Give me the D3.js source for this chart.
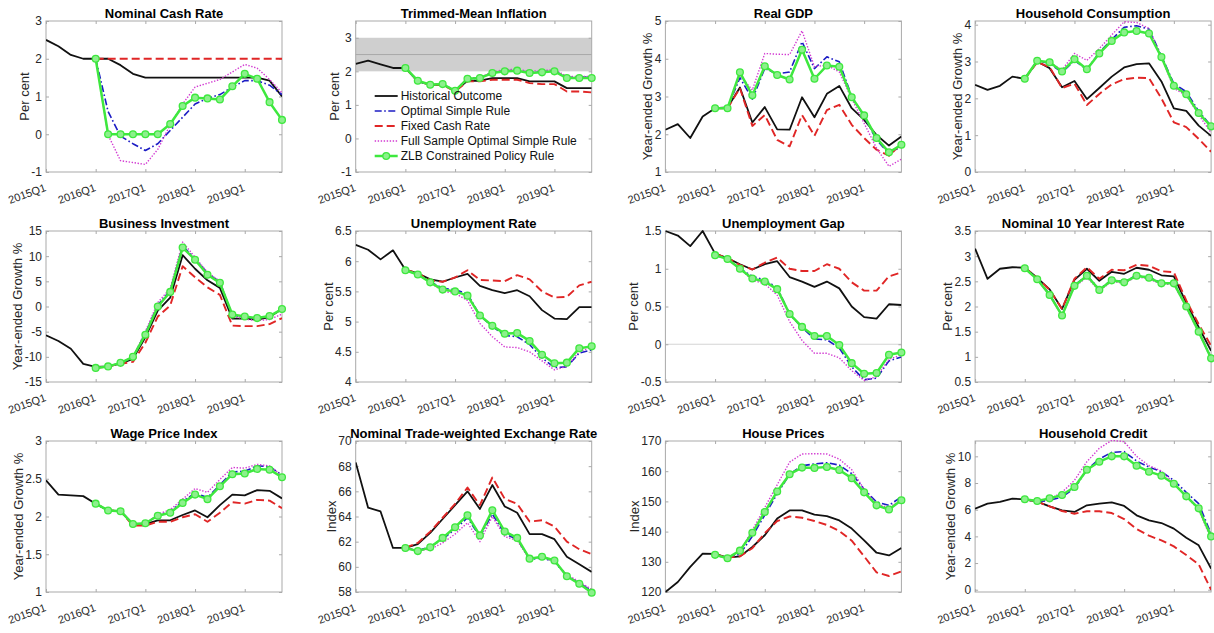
<!DOCTYPE html>
<html>
<head>
<meta charset="utf-8">
<script src="https://cdn.jsdelivr.net/npm/d3@7"></script>
<style>
  body { margin: 0; background: #ffffff; }
  svg { display: block; font-family: "Liberation Sans", Arial, Helvetica, sans-serif; }
</style>
</head>
<body>
<svg id="chart" width="1214" height="633"></svg>
<script>
// Quarterly time axis
const quarters = ["2015Q1","2015Q2","2015Q3","2015Q4","2016Q1","2016Q2","2016Q3","2016Q4",
                  "2017Q1","2017Q2","2017Q3","2017Q4","2018Q1","2018Q2","2018Q3","2018Q4",
                  "2019Q1","2019Q2","2019Q3","2019Q4"];
const xTickQuarters = ["2015Q1","2016Q1","2017Q1","2018Q1","2019Q1"];
const simStartQuarter = "2016Q1";

const seriesNames = ["Historical Outcome", "Optimal Simple Rule", "Fixed Cash Rate",
                     "Full Sample Optimal Simple Rule", "ZLB Constrained Policy Rule"];

const titles = ["Nominal Cash Rate", "Trimmed-Mean Inflation", "Real GDP", "Household Consumption",
                "Business Investment", "Unemployment Rate", "Unemployment Gap", "Nominal 10 Year Interest Rate",
                "Wage Price Index", "Nominal Trade-weighted Exchange Rate", "House Prices", "Household Credit"];
const yLabels = ["Per cent", "Per cent", "Year-ended Growth %", "Year-ended Growth %",
                 "Year-ended Growth %", "Per cent", "Per cent", "Per cent",
                 "Year-ended Growth %", "Index", "Index", "Year-ended Growth %"];
const yDomains = [[-1, 3], [-1, 3.5], [1, 5], [0, 4.1],
                  [-15, 15], [4, 6.5], [-0.5, 1.5], [0.5, 3.5],
                  [1, 3], [58, 70], [120, 170], [-0.17, 11.15]];
const yTicks = [[-1, 0, 1, 2, 3], [-1, 0, 1, 2, 3], [1, 2, 3, 4, 5], [0, 1, 2, 3, 4],
                [-15, -10, -5, 0, 5, 10, 15], [4, 4.5, 5, 5.5, 6, 6.5], [-0.5, 0, 0.5, 1, 1.5], [0.5, 1, 1.5, 2, 2.5, 3, 3.5],
                [1, 1.5, 2, 2.5, 3], [58, 60, 62, 64, 66, 68, 70], [120, 130, 140, 150, 160, 170], [0, 2, 4, 6, 8, 10]];

// Inflation target band and unemployment-gap reference
const inflTargetBand = [2, 3];
const gapReference = [0];

// Nominal cash rate
const cashHist  = [2.5, 2.33, 2.1, 2.0, 2.0, 2.0, 1.83, 1.6, 1.5, 1.5, 1.5, 1.5, 1.5, 1.5, 1.5, 1.5, 1.5, 1.5, 1.42, 1.0];
const cashOpt   = [2.0, 0.6, -0.05, -0.25, -0.43, -0.25, 0.1, 0.45, 0.8, 0.95, 1.05, 1.25, 1.42, 1.42, 1.3, 1.05];
const cashFixed = [2.0, 2.0, 2.0, 2.0, 2.0, 2.0, 2.0, 2.0, 2.0, 2.0, 2.0, 2.0, 2.0, 2.0, 2.0, 2.0];
const cashFull  = [2.0, -0.02, -0.7, -0.75, -0.8, -0.4, 0.25, 0.8, 1.25, 1.35, 1.45, 1.65, 1.85, 1.75, 1.45, 1.1];
const cashZlb   = [2.0, 0, 0, 0, 0, 0, 0.27, 0.75, 0.97, 0.95, 0.92, 1.27, 1.6, 1.47, 0.85, 0.38];

// Trimmed-mean inflation
const inflHist  = [2.22, 2.32, 2.21, 2.1, 2.1, 1.7, 1.6, 1.6, 1.42, 1.72, 1.72, 1.8, 1.8, 1.8, 1.7, 1.7, 1.7, 1.5, 1.5, 1.5];
const inflOpt   = [2.1, 1.7, 1.6, 1.62, 1.42, 1.78, 1.8, 1.96, 2.02, 2.03, 1.97, 1.98, 2.02, 1.82, 1.83, 1.83];
const inflFixed = [2.1, 1.7, 1.6, 1.6, 1.4, 1.7, 1.7, 1.75, 1.75, 1.75, 1.65, 1.62, 1.62, 1.4, 1.4, 1.37];
const inflFull  = [2.1, 1.7, 1.6, 1.62, 1.42, 1.8, 1.82, 1.98, 2.05, 2.06, 2.0, 2.02, 2.05, 1.85, 1.85, 1.85];
const inflZlb   = [2.1, 1.72, 1.6, 1.62, 1.42, 1.78, 1.8, 1.95, 2.0, 2.02, 1.95, 1.97, 2.0, 1.8, 1.8, 1.8];

// Real GDP
const gdpHist  = [2.12, 2.27, 1.9, 2.47, 2.69, 2.71, 3.24, 2.31, 2.72, 2.13, 2.12, 2.98, 2.45, 3.07, 3.28, 2.69, 2.38, 1.98, 1.7, 1.94];
const gdpOpt   = [2.69, 2.69, 3.5, 2.93, 3.74, 3.6, 3.65, 4.45, 3.74, 4.05, 3.92, 3.0, 2.47, 1.85, 1.48, 1.68];
const gdpFixed = [2.69, 2.69, 3.22, 2.22, 2.51, 1.85, 1.68, 2.51, 1.96, 2.64, 2.78, 2.25, 1.9, 1.59, 1.43, 1.75];
const gdpFull  = [2.69, 2.69, 3.57, 3.17, 4.14, 4.12, 4.11, 4.74, 3.79, 3.83, 3.65, 2.94, 2.29, 1.63, 1.15, 1.34];
const gdpZlb   = [2.69, 2.69, 3.64, 3.03, 3.8, 3.57, 3.45, 4.24, 3.47, 3.82, 3.79, 2.98, 2.5, 1.9, 1.52, 1.72];

// Household consumption
const consHist  = [2.37, 2.23, 2.34, 2.59, 2.53, 3.0, 2.82, 2.3, 2.47, 1.98, 2.28, 2.59, 2.84, 2.93, 2.95, 2.46, 1.73, 1.66, 1.26, 0.98];
const consOpt   = [2.53, 3.02, 2.95, 2.7, 3.03, 2.78, 3.25, 3.6, 3.93, 3.97, 3.88, 3.15, 2.4, 2.18, 1.65, 1.25];
const consFixed = [2.53, 2.98, 2.85, 2.28, 2.4, 1.82, 2.12, 2.38, 2.52, 2.56, 2.55, 2.0, 1.35, 1.22, 0.9, 0.55];
const consFull  = [2.53, 3.02, 2.97, 2.77, 3.22, 3.03, 3.35, 3.72, 4.08, 4.06, 3.9, 3.12, 2.27, 2.08, 1.55, 1.07];
const consZlb   = [2.53, 3.02, 2.98, 2.73, 3.06, 2.79, 3.22, 3.56, 3.79, 3.83, 3.76, 3.12, 2.34, 2.11, 1.6, 1.24];

// Business investment
const invHist  = [-5.73, -6.85, -8.4, -11.4, -12.0, -11.9, -11.35, -10.4, -6.1, -0.8, 1.75, 10.2, 7.5, 5.2, 3.7, -2.4, -2.4, -2.6, -2.1, -0.5];
const invOpt   = [-12.2, -11.9, -11.2, -10.1, -5.3, 0.3, 3.2, 12.0, 9.6, 6.6, 4.9, -1.8, -2.1, -2.4, -1.9, -0.6];
const invFixed = [-12.2, -11.9, -11.4, -11.0, -7.2, -2.0, 0.2, 8.0, 5.8, 3.8, 2.3, -3.8, -3.9, -3.9, -3.5, -2.3];
const invFull  = [-12.2, -11.9, -11.2, -10.0, -5.0, 0.8, 3.6, 12.8, 9.8, 6.8, 5.0, -1.9, -2.5, -2.8, -2.6, -1.5];
const invZlb   = [-12.2, -11.9, -11.2, -10.0, -5.6, 0.0, 2.9, 11.7, 9.3, 6.3, 4.7, -1.6, -2.0, -2.3, -1.9, -0.5];

// Unemployment rate
const urHist  = [6.27, 6.19, 6.03, 6.18, 5.86, 5.8, 5.7, 5.66, 5.73, 5.79, 5.59, 5.52, 5.47, 5.52, 5.42, 5.19, 5.05, 5.04, 5.24, 5.24];
const urOpt   = [5.85, 5.78, 5.66, 5.55, 5.53, 5.46, 5.1, 4.92, 4.77, 4.75, 4.62, 4.4, 4.24, 4.25, 4.48, 4.53];
const urFixed = [5.86, 5.8, 5.68, 5.66, 5.73, 5.85, 5.69, 5.68, 5.67, 5.77, 5.7, 5.5, 5.4, 5.41, 5.6, 5.66];
const urFull  = [5.85, 5.78, 5.65, 5.5, 5.47, 5.35, 4.97, 4.75, 4.58, 4.57, 4.5, 4.35, 4.2, 4.26, 4.5, 4.58];
const urZlb   = [5.85, 5.78, 5.65, 5.53, 5.5, 5.43, 5.1, 4.93, 4.8, 4.81, 4.68, 4.45, 4.31, 4.32, 4.56, 4.59];

// Unemployment gap
const gapHist  = [1.5, 1.44, 1.3, 1.5, 1.2, 1.14, 1.06, 0.99, 1.06, 1.1, 0.89, 0.83, 0.76, 0.83, 0.74, 0.5, 0.36, 0.34, 0.53, 0.52];
const gapOpt   = [1.18, 1.13, 1.0, 0.9, 0.85, 0.75, 0.4, 0.22, 0.07, 0.06, -0.05, -0.3, -0.47, -0.45, -0.22, -0.17];
const gapFixed = [1.2, 1.14, 1.05, 0.99, 1.08, 1.15, 1.0, 0.97, 0.97, 1.06, 1.0, 0.82, 0.71, 0.71, 0.9, 0.95];
const gapFull  = [1.18, 1.13, 1.0, 0.85, 0.8, 0.65, 0.3, 0.05, -0.12, -0.12, -0.18, -0.35, -0.48, -0.43, -0.2, -0.14];
const gapZlb   = [1.18, 1.13, 1.0, 0.87, 0.83, 0.73, 0.4, 0.23, 0.11, 0.11, -0.01, -0.25, -0.39, -0.38, -0.14, -0.11];

// Nominal 10 year bond rate
const bondHist  = [3.15, 2.55, 2.75, 2.78, 2.77, 2.57, 2.34, 1.95, 2.53, 2.75, 2.51, 2.69, 2.65, 2.77, 2.73, 2.62, 2.6, 2.07, 1.59, 1.12];
const bondOpt   = [2.76, 2.55, 2.24, 1.83, 2.42, 2.62, 2.34, 2.53, 2.49, 2.62, 2.58, 2.47, 2.47, 2.01, 1.51, 0.98];
const bondFixed = [2.77, 2.57, 2.33, 1.95, 2.55, 2.78, 2.55, 2.73, 2.72, 2.83, 2.81, 2.7, 2.68, 2.12, 1.65, 1.22];
const bondFull  = [2.76, 2.54, 2.22, 1.81, 2.39, 2.58, 2.31, 2.5, 2.46, 2.59, 2.55, 2.44, 2.44, 1.98, 1.48, 0.96];
const bondZlb   = [2.76, 2.54, 2.23, 1.82, 2.41, 2.61, 2.33, 2.52, 2.48, 2.61, 2.57, 2.46, 2.46, 2.0, 1.5, 0.97];

// Wage price index
const wpiHist  = [2.48, 2.29, 2.28, 2.27, 2.17, 2.08, 2.07, 1.9, 1.9, 1.95, 1.95, 2.02, 2.08, 1.99, 2.15, 2.29, 2.28, 2.35, 2.34, 2.24];
const wpiOpt   = [2.17, 2.08, 2.07, 1.9, 1.9, 2.02, 2.07, 2.2, 2.31, 2.25, 2.42, 2.59, 2.6, 2.67, 2.66, 2.55];
const wpiFixed = [2.17, 2.08, 2.07, 1.88, 1.88, 1.93, 1.93, 1.99, 2.03, 1.93, 2.05, 2.19, 2.17, 2.22, 2.21, 2.11];
const wpiFull  = [2.17, 2.08, 2.07, 1.9, 1.9, 2.03, 2.09, 2.23, 2.37, 2.32, 2.49, 2.65, 2.64, 2.69, 2.67, 2.54];
const wpiZlb   = [2.17, 2.08, 2.07, 1.9, 1.91, 2.01, 2.05, 2.18, 2.29, 2.23, 2.4, 2.56, 2.57, 2.63, 2.62, 2.52];

// Nominal trade-weighted exchange rate
const twiHist  = [68.3, 64.7, 64.4, 61.5, 61.5, 61.8, 62.7, 63.8, 64.9, 66.0, 64.6, 66.5, 64.8, 64.3, 62.6, 62.6, 62.2, 60.8, 60.2, 59.6];
const twiOpt   = [61.5, 61.3, 61.6, 62.2, 63.0, 63.9, 62.4, 64.2, 62.6, 62.2, 60.6, 60.7, 60.4, 59.3, 58.7, 58.1];
const twiFixed = [61.5, 61.9, 62.8, 63.9, 65.0, 66.3, 64.9, 67.1, 65.4, 65.0, 63.6, 63.7, 63.2, 62.0, 61.4, 61.0];
const twiFull  = [61.5, 61.3, 61.4, 61.9, 62.6, 63.5, 62.0, 64.0, 62.4, 62.1, 60.6, 60.8, 60.4, 59.4, 58.8, 58.2];
const twiZlb   = [61.5, 61.25, 61.55, 62.3, 63.15, 64.1, 62.5, 64.5, 62.8, 62.3, 60.65, 60.8, 60.5, 59.25, 58.65, 57.95];

// House prices
const hpHist  = [120, 123.3, 128.3, 132.7, 132.6, 131.4, 131.8, 134.9, 138.8, 144.3, 147.0, 147.0, 145.6, 145.1, 143.7, 141.0, 137.1, 133.0, 132.1, 134.6];
const hpOpt   = [132.3, 131.2, 132.5, 138.5, 145.5, 152.5, 159.0, 161.8, 162.4, 162.8, 162.0, 159.2, 154.0, 149.8, 148.7, 151.5];
const hpFixed = [132.5, 131.4, 131.8, 134.5, 139.5, 143.5, 145.0, 144.6, 143.5, 142.2, 140.2, 137.0, 131.8, 126.5, 125.3, 126.8];
const hpFull  = [132.3, 131.2, 133.5, 140.5, 148.0, 155.5, 163.0, 165.7, 165.8, 165.7, 164.0, 160.5, 154.0, 149.0, 148.0, 150.5];
const hpZlb   = [132.3, 131.2, 133.7, 139.6, 146.5, 153.3, 159.0, 161.2, 161.1, 161.4, 160.4, 157.7, 153.0, 148.7, 147.3, 150.4];

// Household credit
const credHist  = [6.08, 6.45, 6.58, 6.83, 6.78, 6.6, 6.25, 5.95, 5.83, 6.33, 6.45, 6.55, 6.28, 5.58, 5.2, 5.0, 4.58, 3.9, 3.33, 1.58];
const credOpt   = [6.78, 6.6, 6.7, 6.95, 7.6, 9.0, 9.8, 10.3, 10.35, 9.65, 9.2, 8.85, 8.2, 7.3, 6.45, 4.2];
const credFixed = [6.78, 6.6, 6.25, 5.9, 5.7, 5.88, 5.88, 5.75, 5.3, 4.55, 4.05, 3.7, 3.25, 2.6, 1.9, 0.0];
const credFull  = [6.78, 6.6, 6.8, 7.3, 8.2, 9.6, 10.6, 11.2, 11.1, 10.0, 9.3, 8.9, 8.0, 7.0, 6.0, 3.8];
const credZlb   = [6.78, 6.65, 6.85, 7.1, 7.7, 9.0, 9.6, 10.0, 10.0, 9.3, 8.85, 8.55, 7.95, 7.0, 6.1, 4.0];

const histSeries = [cashHist, inflHist, gdpHist, consHist, invHist, urHist, gapHist, bondHist, wpiHist, twiHist, hpHist, credHist];
const simSeries = [
  [cashOpt, cashFixed, cashFull, cashZlb],
  [inflOpt, inflFixed, inflFull, inflZlb],
  [gdpOpt, gdpFixed, gdpFull, gdpZlb],
  [consOpt, consFixed, consFull, consZlb],
  [invOpt, invFixed, invFull, invZlb],
  [urOpt, urFixed, urFull, urZlb],
  [gapOpt, gapFixed, gapFull, gapZlb],
  [bondOpt, bondFixed, bondFull, bondZlb],
  [wpiOpt, wpiFixed, wpiFull, wpiZlb],
  [twiOpt, twiFixed, twiFull, twiZlb],
  [hpOpt, hpFixed, hpFull, hpZlb],
  [credOpt, credFixed, credFull, credZlb]
];

// ---------- drawing ----------
const svg = d3.select("#chart");
svg.append("rect").attr("width", 1214).attr("height", 633).attr("fill", "#ffffff");

const plotW = 236, plotH = 151;
const colLeft = c => 46 + c * 309.7;
const rowTop = r => 21 + r * 210;
const simStart = quarters.indexOf(simStartQuarter);

const boxColor = "#a9a9a9";
const textColor = "#262626";

const styles = [
  { stroke: "#111111", width: 1.8, dash: null },
  { stroke: "#1c1cc4", width: 1.6, dash: "7,2.5,1.6,2.5" },
  { stroke: "#e02626", width: 1.9, dash: "8,4" },
  { stroke: "#d23ad2", width: 1.4, dash: "1.4,1.6" },
  { stroke: "#3ee83e", width: 2.5, dash: null, marker: true }
];

const fmt = d => String(d);

titles.forEach((title, i) => {
  const c = i % 4, r = Math.floor(i / 4);
  const left = colLeft(c), top = rowTop(r);
  const x = d3.scaleLinear().domain([0, quarters.length - 1]).range([left, left + plotW]);
  const y = d3.scaleLinear().domain(yDomains[i]).range([top + plotH, top]);
  const g = svg.append("g").attr("class", "panel");

  const clipId = "clip" + i;
  svg.append("clipPath").attr("id", clipId)
    .append("rect").attr("x", left).attr("y", top - 1).attr("width", plotW).attr("height", plotH + 2);

  // inflation target band
  if (i === 1) {
    g.append("rect")
      .attr("x", left).attr("width", plotW)
      .attr("y", y(inflTargetBand[1])).attr("height", y(inflTargetBand[0]) - y(inflTargetBand[1]))
      .attr("fill", "#cfcfcf");
    g.append("line")
      .attr("x1", left).attr("x2", left + plotW)
      .attr("y1", y(d3.mean(inflTargetBand))).attr("y2", y(d3.mean(inflTargetBand)))
      .attr("stroke", "#a8a8a8").attr("stroke-width", 1);
  }
  // zero reference line
  if (i === 6) {
    gapReference.forEach(v => {
      g.append("line")
        .attr("x1", left).attr("x2", left + plotW)
        .attr("y1", y(v)).attr("y2", y(v))
        .attr("stroke", "#d4d4d4").attr("stroke-width", 1.2);
    });
  }

  // axes box
  g.append("rect").attr("x", left).attr("y", top).attr("width", plotW).attr("height", plotH)
    .attr("fill", "none").attr("stroke", boxColor).attr("stroke-width", 1);

  const xTickIdx = xTickQuarters.map(q => quarters.indexOf(q));

  // left axis with labels
  const yAxisG = g.append("g").attr("transform", `translate(${left},0)`)
    .call(d3.axisLeft(y).tickValues(yTicks[i]).tickSize(-3).tickPadding(4).tickFormat(fmt));
  // right axis ticks only
  g.append("g").attr("transform", `translate(${left + plotW},0)`)
    .call(d3.axisRight(y).tickValues(yTicks[i]).tickSize(-3).tickFormat(""));
  // bottom axis
  const xAxisG = g.append("g").attr("transform", `translate(0,${top + plotH})`)
    .call(d3.axisBottom(x).tickValues(xTickIdx).tickSize(-3).tickFormat(d => quarters[d]));
  // top axis ticks only
  g.append("g").attr("transform", `translate(0,${top})`)
    .call(d3.axisTop(x).tickValues(xTickIdx).tickSize(-3).tickFormat(""));

  g.selectAll(".domain").remove();
  g.selectAll(".tick line").attr("stroke", boxColor);
  g.selectAll(".tick text").attr("fill", textColor).style("font-size", "12px").style("font-family", "inherit");

  xAxisG.selectAll(".tick text")
    .style("font-size", "11px")
    .attr("text-anchor", "end")
    .attr("x", 0).attr("y", 0).attr("dy", "0.35em")
    .attr("transform", "translate(-1,15) rotate(-20)");

  // y label
  let maxW = 0;
  yAxisG.selectAll(".tick text").each(function () { maxW = Math.max(maxW, this.getBBox().width); });
  const lx = left - 4 - maxW - 2;
  g.append("text")
    .attr("transform", `translate(${lx},${top + plotH / 2}) rotate(-90)`)
    .attr("text-anchor", "middle")
    .attr("fill", textColor)
    .style("font-size", "13px")
    .text(yLabels[i]);

  // title
  g.append("text")
    .attr("x", left + plotW / 2).attr("y", top - 3.5)
    .attr("text-anchor", "middle")
    .attr("fill", "#000")
    .style("font-size", "13px").style("font-weight", "bold")
    .text(title);

  // series
  const line = d3.line().x(d => x(d.i)).y(d => y(d.v));
  const all = [histSeries[i].map((v, k) => ({ i: k, v }))]
    .concat(simSeries[i].map(s => s.map((v, k) => ({ i: k + simStart, v }))));
  const lines = g.append("g").attr("clip-path", `url(#${clipId})`);
  all.forEach((pts, s) => {
    const st = styles[s];
    lines.append("path").datum(pts)
      .attr("d", line)
      .attr("fill", "none")
      .attr("stroke", st.stroke)
      .attr("stroke-width", st.width)
      .attr("stroke-dasharray", st.dash)
      .attr("stroke-linejoin", "round");
    if (st.marker) {
      g.append("g").selectAll("circle").data(pts).join("circle")
        .attr("cx", d => x(d.i)).attr("cy", d => y(d.v)).attr("r", 3.4)
        .attr("fill", "#8cf08c").attr("stroke", st.stroke).attr("stroke-width", 1.3);
    }
  });

  // legend
  if (i === 1) {
    const lg = g.append("g").attr("transform", `translate(${left + 19},${top + 75})`);
    seriesNames.forEach((name, s) => {
      const st = styles[s];
      const row = lg.append("g").attr("transform", `translate(0,${s * 15})`);
      row.append("line").attr("x1", 0).attr("x2", 23).attr("y1", 0).attr("y2", 0)
        .attr("stroke", st.stroke).attr("stroke-width", st.width).attr("stroke-dasharray", st.dash);
      if (st.marker) {
        row.append("circle").attr("cx", 11.5).attr("cy", 0).attr("r", 3.4)
          .attr("fill", "#8cf08c").attr("stroke", st.stroke).attr("stroke-width", 1.3);
      }
      row.append("text").attr("x", 26).attr("y", 0).attr("dy", "0.35em")
        .attr("fill", "#111").style("font-size", "12px").text(name);
    });
  }
});
</script>
</body>
</html>
